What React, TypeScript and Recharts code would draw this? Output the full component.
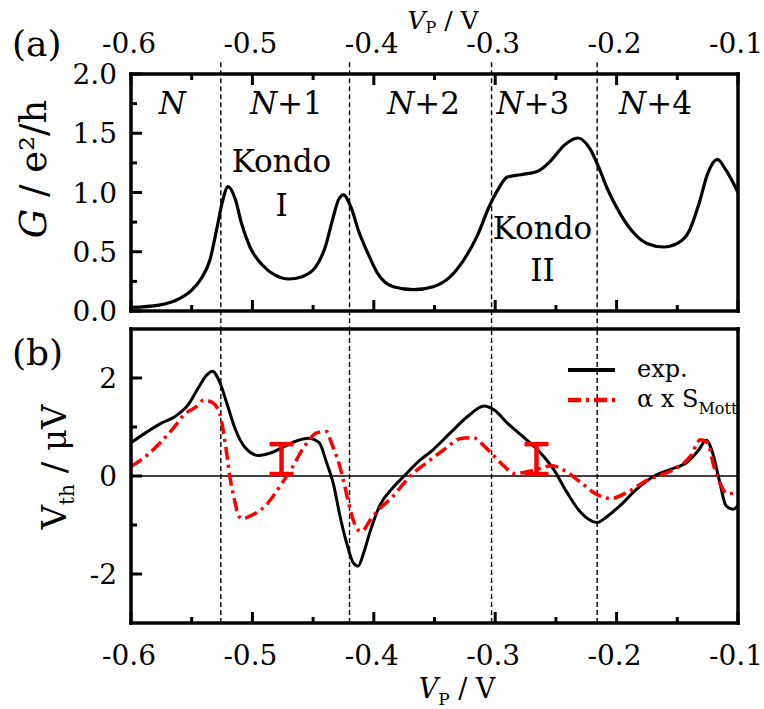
import React from 'react';
import {
  LineChart,
  ComposedChart,
  Line,
  Scatter,
  ErrorBar,
  XAxis,
  YAxis,
  ReferenceLine,
  ReferenceDot,
  Legend,
} from 'recharts';

const FONT = "'DejaVu Serif', 'Liberation Serif', 'Noto Serif', serif";
const RED = '#ff0000';

// Plunger-gate voltage axis (V) and value axes
const vpTicks = [-0.6, -0.55, -0.5, -0.45, -0.4, -0.35, -0.3, -0.25, -0.2, -0.15, -0.1];
const gTicks = [0, 0.25, 0.5, 0.75, 1, 1.25, 1.5, 1.75, 2];
const vthTicks = [-2, -1, 0, 1, 2];

// Charge-state boundaries (V)
const boundaries = [-0.526, -0.42, -0.303, -0.216];

// Conductance G (e²/h) versus V_P
const gVp = [
  -0.6, -0.577, -0.561, -0.55, -0.542, -0.535, -0.529, -0.525, -0.52, -0.514, -0.509, -0.502,
  -0.492, -0.481, -0.47, -0.459, -0.448, -0.44, -0.434, -0.429, -0.425, -0.419, -0.412, -0.405,
  -0.397, -0.384, -0.367, -0.351, -0.337, -0.326, -0.315, -0.305, -0.298, -0.29, -0.279, -0.265,
  -0.254, -0.243, -0.232, -0.222, -0.215, -0.208, -0.197, -0.186, -0.175, -0.161, -0.15, -0.14,
  -0.132, -0.125, -0.117, -0.11, -0.1,
];
const gCond = [
  0.03, 0.05, 0.1, 0.177, 0.276, 0.43, 0.71, 0.91, 1.05, 0.94, 0.74, 0.54,
  0.39, 0.3, 0.27, 0.29, 0.37, 0.54, 0.77, 0.94, 0.98, 0.88, 0.66, 0.49,
  0.32, 0.205, 0.18, 0.205, 0.29, 0.43, 0.63, 0.88, 1.02, 1.13, 1.15, 1.18,
  1.27, 1.4, 1.46, 1.37, 1.22, 1.04, 0.82, 0.66, 0.57, 0.54, 0.57, 0.68,
  0.91, 1.16, 1.28, 1.19, 1.0,
];

// Measured thermovoltage (µV)
const thVp = [
  -0.6, -0.588, -0.575, -0.564, -0.553, -0.544, -0.538, -0.533, -0.527, -0.521, -0.514,
  -0.506, -0.495, -0.484, -0.473, -0.462, -0.454, -0.445, -0.439, -0.433, -0.428, -0.422,
  -0.417, -0.413, -0.408, -0.403, -0.395, -0.384, -0.375, -0.364, -0.351, -0.337, -0.323,
  -0.309, -0.301, -0.29, -0.276, -0.263, -0.252, -0.241, -0.23, -0.216, -0.208, -0.197,
  -0.183, -0.169, -0.155, -0.142, -0.133, -0.126, -0.121, -0.115, -0.11, -0.104, -0.1,
];
const thExp = [
  0.68, 0.88, 1.08, 1.21, 1.45, 1.82, 2.05, 2.14, 1.92, 1.48, 0.95,
  0.58, 0.42, 0.48, 0.61, 0.73, 0.77, 0.68, 0.28, -0.19, -0.8, -1.4,
  -1.77, -1.84, -1.54, -1.13, -0.6, -0.23, 0.0, 0.28, 0.54, 0.88, 1.21,
  1.43, 1.35, 1.08, 0.78, 0.48, 0.14, -0.33, -0.73, -0.95, -0.83, -0.6,
  -0.26, 0.0, 0.14, 0.28, 0.51, 0.73, 0.48, -0.13, -0.6, -0.68, -0.6,
];

// Scaled Mott thermopower α x S_Mott (µV)
const mottVp = [
  -0.6, -0.586, -0.576, -0.566, -0.555, -0.547, -0.54, -0.533, -0.527, -0.522, -0.518,
  -0.515, -0.511, -0.508, -0.502, -0.489, -0.476, -0.468, -0.457, -0.447, -0.439, -0.435,
  -0.429, -0.424, -0.419, -0.413, -0.41, -0.403, -0.395, -0.386, -0.378, -0.37, -0.356,
  -0.342, -0.329, -0.318, -0.309, -0.301, -0.293, -0.284, -0.268, -0.253, -0.243, -0.23,
  -0.216, -0.205, -0.191, -0.175, -0.164, -0.15, -0.139, -0.131, -0.125, -0.12, -0.114,
  -0.109, -0.1,
];
const mottVals = [
  0.19, 0.44, 0.68, 0.95, 1.28, 1.4, 1.55, 1.5, 1.28, 0.6, -0.1,
  -0.46, -0.83, -0.87, -0.82, -0.6, -0.16, 0.14, 0.61, 0.88, 0.91, 0.68,
  0.28, -0.2, -0.73, -1.1, -1.13, -0.9, -0.66, -0.46, -0.23, 0.0, 0.28,
  0.54, 0.76, 0.78, 0.61, 0.41, 0.21, 0.05, 0.12, 0.21, 0.11, -0.12,
  -0.38, -0.46, -0.33, -0.09, 0.02, 0.17, 0.41, 0.74, 0.68, 0.21, -0.19,
  -0.36, -0.33,
];

// Uncertainty bars (µV)
const errVp = [-0.476, -0.266];
const errMid = [0.345, 0.345];
const errHalf = [0.305, 0.305];

// Annotations in panel (a)
const regionNames = ['N', 'N+1', 'N+2', 'N+3', 'N+4'];
const regionVp = [-0.566, -0.472, -0.359, -0.269, -0.168];
const regionG = 1.755;
const kondoVp = [-0.476, -0.261];
const kondoWordG = [1.27, 0.705];
const kondoNumerals = ['I', 'II'];
const kondoNumeralG = [0.9, 0.35];

const gData = gVp.map((v, i) => ({ v, g: gCond[i] }));
const expData = thVp.map((v, i) => ({ v, exp: thExp[i] }));
const mottData = mottVp.map((v, i) => ({ v, mott: mottVals[i] }));
const errData = errVp.map((v, i) => ({ v, mid: errMid[i], half: errHalf[i] }));

const W = 764;
const H = 709;
const PLOT_LEFT = 131;
const PLOT_RIGHT = 738;
const TOP_A = 74;
const BOTTOM_A = 311;
const TOP_B = 329;
const BOTTOM_B = 623;
const AX = 1; // nominal axis band thickness

const TICK_FONT = 28;
const frameLine = { stroke: '#000', strokeWidth: 3.5, strokeLinecap: 'square' as const };

type Side = 'top' | 'bottom' | 'left' | 'right';

const isTenth = (v: number) => Math.abs(v * 10 - Math.round(v * 10)) < 1e-6;
const isHalf = (v: number) => Math.abs(v * 2 - Math.round(v * 2)) < 1e-6;
const isEven = (v: number) => Math.abs(v / 2 - Math.round(v / 2)) < 1e-6;

const makeTick =
  (side: Side, isMajor: (v: number) => boolean, fmt?: (v: number) => string) =>
  (props: any) => {
    const { x, y, payload } = props;
    const v = Number(payload.value);
    const major = isMajor(v);
    const len = major ? 11 : 6;
    const ln = { stroke: '#000', strokeWidth: 3 };
    const txt = { fontSize: TICK_FONT, fill: '#000', style: { fontFamily: FONT } };
    const show = !!fmt && major;
    let line: React.ReactNode = null;
    let label: React.ReactNode = null;
    if (side === 'top') {
      line = <line x1={x} x2={x} y1={y} y2={y + len} {...ln} />;
      if (show)
        label = (
          <text x={x - 2} y={y - 21} textAnchor="middle" {...txt}>
            {fmt!(v)}
          </text>
        );
    } else if (side === 'bottom') {
      line = <line x1={x} x2={x} y1={y} y2={y - len} {...ln} />;
      if (show)
        label = (
          <text x={x - 2} y={y + 42} textAnchor="middle" {...txt}>
            {fmt!(v)}
          </text>
        );
    } else if (side === 'left') {
      line = <line x1={x} x2={x + len} y1={y} y2={y} {...ln} />;
      if (show)
        label = (
          <text x={x - 14} y={y + 10} textAnchor="end" {...txt}>
            {fmt!(v)}
          </text>
        );
    } else {
      line = <line x1={x} x2={x - len} y1={y} y2={y} {...ln} />;
    }
    return (
      <g>
        {line}
        {label}
      </g>
    );
  };

const fmtTenth = (v: number) => v.toFixed(1);
const fmtInt = (v: number) => String(Math.round(v));

// Text drawn centred on a data point (used for the panel annotations)
const annotation = (content: React.ReactNode, size = 31) => (p: any) => (
  <text
    x={p.cx}
    y={p.cy}
    dy="0.36em"
    textAnchor="middle"
    fontSize={size}
    fill="#000"
    style={{ fontFamily: FONT }}
  >
    {content}
  </text>
);

const regionText = (name: string) => (
  <>
    <tspan fontStyle="italic">{name.charAt(0)}</tspan>
    {name.length > 1 ? <tspan>{name.slice(1)}</tspan> : null}
  </>
);

const renderLegend = (props: any) => {
  const items = (props.payload || []).filter((e: any) => e.type !== 'none');
  return (
    <svg width={200} height={80} style={{ display: 'block', fontFamily: FONT }}>
      {items.map((e: any, i: number) => {
        const name: string = String(e.value);
        const [main, sub] = name.split('_');
        const dash = e.payload && e.payload.strokeDasharray;
        const yLine = 25 + 30 * i;
        return (
          <g key={name}>
            <line
              x1={8}
              x2={55}
              y1={yLine}
              y2={yLine}
              stroke={e.color}
              strokeWidth={i === 0 ? 4 : 4.5}
              strokeDasharray={dash}
            />
            <text x={77} y={yLine + 7} fontSize={24} fill="#000" style={{ fontFamily: FONT }}>
              {main}
              {sub ? (
                <tspan fontSize={16} dy={7}>
                  {sub}
                </tspan>
              ) : null}
            </text>
          </g>
        );
      })}
    </svg>
  );
};

const dashed = { stroke: '#000', strokeWidth: 1.4, strokeDasharray: '5 3' };

const axisCommon = {
  interval: 0 as const,
  tickSize: 0,
  tickMargin: 0,
  tickLine: false,
  axisLine: frameLine,
};

export default function App() {
  return (
    <div
      style={{
        position: 'absolute',
        left: 0,
        top: 0,
        width: W,
        height: H,
        background: '#fff',
        overflow: 'hidden',
        fontFamily: FONT,
      }}
    >
      {/* (a) conductance */}
      <div style={{ position: 'absolute', left: 0, top: 0 }}>
        <LineChart
          width={W}
          height={BOTTOM_A + 21}
          data={gData}
          margin={{
            top: TOP_A - AX,
            right: W - PLOT_RIGHT - AX,
            bottom: 21 - AX,
            left: PLOT_LEFT - AX,
          }}
        >
          <XAxis
            xAxisId="t"
            orientation="top"
            type="number"
            dataKey="v"
            domain={[-0.6, -0.1]}
            ticks={vpTicks}
            height={AX}
            tick={makeTick('top', isTenth, fmtTenth)}
            {...axisCommon}
          />
          <XAxis
            xAxisId="b"
            orientation="bottom"
            type="number"
            dataKey="v"
            domain={[-0.6, -0.1]}
            ticks={vpTicks}
            height={AX}
            tick={makeTick('bottom', isTenth)}
            {...axisCommon}
          />
          <YAxis
            yAxisId="l"
            orientation="left"
            type="number"
            domain={[0, 2]}
            ticks={gTicks}
            width={AX}
            tick={makeTick('left', isHalf, fmtTenth)}
            {...axisCommon}
          />
          <YAxis
            yAxisId="r"
            orientation="right"
            type="number"
            domain={[0, 2]}
            ticks={gTicks}
            width={AX}
            tick={makeTick('right', isHalf)}
            {...axisCommon}
          />
          {boundaries.map((b) => (
            <ReferenceLine
              key={`a${b}`}
              xAxisId="b"
              yAxisId="l"
              segment={[
                { x: b, y: 2.1 },
                { x: b, y: -0.16 },
              ]}
              ifOverflow="visible"
              {...dashed}
            />
          ))}
          {regionNames.map((n, i) => (
            <ReferenceDot
              key={n}
              xAxisId="b"
              yAxisId="l"
              x={regionVp[i]}
              y={regionG}
              r={0}
              shape={annotation(regionText(n))}
            />
          ))}
          {kondoVp.map((v, i) => (
            <ReferenceDot
              key={`kw${i}`}
              xAxisId="b"
              yAxisId="l"
              x={v}
              y={kondoWordG[i]}
              r={0}
              shape={annotation('Kondo')}
            />
          ))}
          {kondoVp.map((v, i) => (
            <ReferenceDot
              key={`kn${i}`}
              xAxisId="b"
              yAxisId="l"
              x={v}
              y={kondoNumeralG[i]}
              r={0}
              shape={annotation(kondoNumerals[i])}
            />
          ))}
          <Line
            xAxisId="b"
            yAxisId="l"
            type="monotone"
            dataKey="g"
            stroke="#000"
            strokeWidth={3.2}
            dot={false}
            activeDot={false}
            isAnimationActive={false}
          />
        </LineChart>
      </div>

      {/* (b) thermovoltage */}
      <div style={{ position: 'absolute', left: 0, top: 0 }}>
        <ComposedChart
          width={W}
          height={H}
          margin={{
            top: TOP_B - AX,
            right: W - PLOT_RIGHT - AX,
            bottom: H - BOTTOM_B - AX,
            left: PLOT_LEFT - AX,
          }}
        >
          <XAxis
            xAxisId="t"
            orientation="top"
            type="number"
            dataKey="v"
            domain={[-0.6, -0.1]}
            ticks={vpTicks}
            height={AX}
            tick={makeTick('top', isTenth)}
            {...axisCommon}
          />
          <XAxis
            xAxisId="b"
            orientation="bottom"
            type="number"
            dataKey="v"
            domain={[-0.6, -0.1]}
            ticks={vpTicks}
            height={AX}
            tick={makeTick('bottom', isTenth, fmtTenth)}
            {...axisCommon}
          />
          <YAxis
            yAxisId="l"
            orientation="left"
            type="number"
            domain={[-3, 3]}
            ticks={vthTicks}
            width={AX}
            tick={makeTick('left', isEven, fmtInt)}
            {...axisCommon}
          />
          <YAxis
            yAxisId="r"
            orientation="right"
            type="number"
            domain={[-3, 3]}
            ticks={vthTicks}
            width={AX}
            tick={makeTick('right', isEven)}
            {...axisCommon}
          />
          <ReferenceLine xAxisId="b" yAxisId="l" y={0} stroke="#000" strokeWidth={1.6} />
          {boundaries.map((b) => (
            <ReferenceLine key={`b${b}`} xAxisId="b" yAxisId="l" x={b} {...dashed} />
          ))}
          <Line
            xAxisId="b"
            yAxisId="l"
            data={expData}
            type="monotone"
            dataKey="exp"
            name="exp."
            stroke="#000"
            strokeWidth={3}
            dot={false}
            activeDot={false}
            isAnimationActive={false}
          />
          <Line
            xAxisId="b"
            yAxisId="l"
            data={mottData}
            type="monotone"
            dataKey="mott"
            name="α x S_Mott"
            stroke={RED}
            strokeWidth={3.5}
            strokeDasharray="13 5 3 5"
            dot={false}
            activeDot={false}
            isAnimationActive={false}
          />
          <Scatter
            xAxisId="b"
            yAxisId="l"
            data={errData}
            dataKey="mid"
            legendType="none"
            shape={() => <g />}
            isAnimationActive={false}
          >
            <ErrorBar
              dataKey="half"
              direction="y"
              width={12}
              stroke={RED}
              strokeWidth={4.5}
              isAnimationActive={false}
            />
          </Scatter>
          <Legend
            layout="vertical"
            align="center"
            verticalAlign="middle"
            width={200}
            height={80}
            wrapperStyle={{ left: 560, top: 345, width: 200, height: 80 }}
            content={renderLegend}
          />
        </ComposedChart>
      </div>

      {/* Panel letters and axis titles */}
      <svg
        width={W}
        height={H}
        style={{ position: 'absolute', left: 0, top: 0, pointerEvents: 'none', fontFamily: FONT }}
        fill="#000"
      >
        <text x={12} y={56} fontSize={36}>(a)</text>
        <text x={12} y={365} fontSize={36}>(b)</text>
        <text x={443} y={29} fontSize={25} textAnchor="middle">
          <tspan fontStyle="italic">V</tspan>
          <tspan fontSize={16} dy={4}>P</tspan>
          <tspan dy={-4}> / V</tspan>
        </text>
        <text x={457} y={698} fontSize={27} textAnchor="middle">
          <tspan fontStyle="italic">V</tspan>
          <tspan fontSize={17} dy={7}>P</tspan>
          <tspan dy={-7}> / V</tspan>
        </text>
        <text transform="translate(46,169) rotate(-90)" fontSize={37} textAnchor="middle">
          <tspan fontStyle="italic">G</tspan>
          <tspan> / e²/h</tspan>
        </text>
        <text transform="translate(66,467) rotate(-90)" fontSize={34} textAnchor="middle">
          <tspan>V</tspan>
          <tspan fontSize={20} dy={8}>th</tspan>
          <tspan dy={-8}> / μV</tspan>
        </text>
      </svg>
    </div>
  );
}
